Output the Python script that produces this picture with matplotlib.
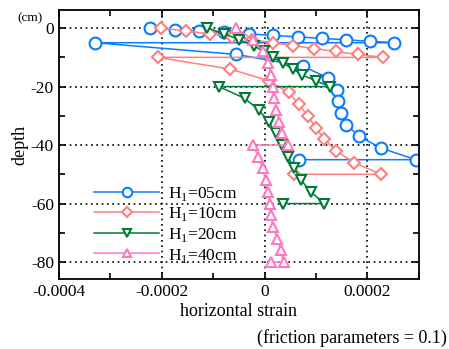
import matplotlib
matplotlib.use("Agg")
import matplotlib.pyplot as plt
from matplotlib.ticker import MultipleLocator, FixedLocator

plt.rcParams['font.family'] = ['Liberation Serif', 'DejaVu Serif']
plt.rcParams['mathtext.fontset'] = 'custom'
plt.rcParams['mathtext.rm'] = 'Liberation Serif'
plt.rcParams['axes.unicode_minus'] = False

# ---- data (strain in units of 1e-4, depth in cm) ----
labels = ["H$_\\mathregular{1}$=05cm", "H$_\\mathregular{1}$=10cm",
          "H$_\\mathregular{1}$=20cm", "H$_\\mathregular{1}$=40cm"]

h05_strain = [-2.22, -1.74, -1.27, -0.78, -0.31, 0.16, 0.64, 1.11, 1.58, 2.05, 2.52,
              -3.29, -0.55, 0.74, 1.23, 1.40, 1.43, 1.49, 1.59, 1.84, 2.26, 2.94, 0.66]
h05_depth = [0, -0.5, -1, -1.5, -2, -2.5, -3, -3.5, -4, -4.5, -5,
             -5, -9, -13, -17, -21, -25, -29, -33, -37, -41, -45, -45]

h10_strain = [-2.01, -1.52, -1.07, -0.64, -0.25, 0.16, 0.55, 0.96, 1.38, 1.81, 2.30,
              -2.08, -0.67, 0.08, 0.47, 0.66, 0.84, 0.99, 1.16, 1.39, 1.74, 2.26, 0.58]
h10_depth = [0, -1, -2, -3, -4, -5, -6, -7, -8, -9, -10,
             -10, -14, -18, -22, -26, -30, -34, -38, -42, -46, -50, -50]

h20_strain = [-1.11, -0.78, -0.49, -0.21, -0.02, 0.16, 0.36, 0.55, 0.73, 0.99, 1.27,
              -0.89, -0.39, -0.11, 0.08, 0.22, 0.34, 0.45, 0.58, 0.71, 0.90, 1.16, 0.35]
h20_depth = [0, -2, -4, -6, -8, -10, -12, -14, -16, -18, -20,
             -20, -24, -28, -32, -36, -40, -44, -48, -52, -56, -60, -60]

h40_strain = [-0.55, -0.23, -0.03, 0.07, 0.13, 0.16, 0.19, 0.23, 0.28, 0.33, 0.45,
              -0.23, -0.12, -0.04, 0.02, 0.06, 0.10, 0.13, 0.16, 0.25, 0.31, 0.37, 0.13]
h40_depth = [0, -4, -8, -12, -16, -20, -24, -28, -32, -36, -40,
             -40, -44, -48, -52, -56, -60, -64, -68, -72, -76, -80, -80]

xticks = [-0.0004, -0.0002, 0, 0.0002]
xticklabels = ["-0.0004", "-0.0002", "0", "0.0002"]
yticks = [0, -20, -40, -60, -80]

series = [
    (h05_strain, h05_depth, '#0A7CFF', 'o', 8.5),
    (h10_strain, h10_depth, '#FF7F7F', 'D', 6.5),
    (h20_strain, h20_depth, '#007A35', 'v', 7.5),
    (h40_strain, h40_depth, '#FF77BF', '^', 7.5),
]

fig = plt.figure(figsize=(4.49, 3.49), dpi=100)
ax = fig.add_axes([0.131, 0.2006, 0.802, 0.7704])

for (xs, ds, c, m, ms), lab in zip(series, labels):
    ax.plot([v * 1e-4 for v in xs], ds, color=c, marker=m, markersize=ms,
            markerfacecolor='white', markeredgecolor=c, markeredgewidth=1.5,
            linewidth=1.1, label=lab)

ax.set_xlim(-0.0004, 0.0003)
ax.set_ylim(-85.8, 6.15)
ax.xaxis.set_major_locator(FixedLocator(xticks))
ax.set_xticklabels(xticklabels)
ax.xaxis.set_minor_locator(MultipleLocator(0.0001))
ax.yaxis.set_major_locator(FixedLocator(yticks))
ax.yaxis.set_minor_locator(MultipleLocator(10))
ax.tick_params(which='both', direction='in', top=True, right=True, labelsize=12.5, width=1.2)
ax.tick_params(which='major', length=5)
ax.tick_params(which='minor', length=4)
ax.grid(True, which='major', color='black', linestyle=(0, (1, 2.2)), linewidth=1.2)
for sp in ax.spines.values():
    sp.set_linewidth(1.3)

ax.set_xlabel("horizontal strain", fontsize=13, labelpad=2)
ax.set_ylabel("depth", fontsize=13, labelpad=2)
fig.text(0.067, 0.948, "(cm)", fontsize=9.5, ha='center', va='center')
fig.text(0.996, 0.032, "(friction parameters = 0.1)", fontsize=13, ha='right', va='center')

leg = ax.legend(loc='lower left', bbox_to_anchor=(0.07, 0.015), frameon=False,
                fontsize=12.5, handlelength=3.7, handletextpad=0.55,
                labelspacing=0.15, borderaxespad=0.2, markerscale=0.8)

fig.savefig("out.png", dpi=100)
